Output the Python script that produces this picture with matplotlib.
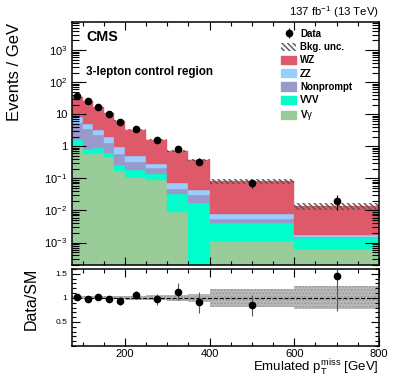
import numpy as np
import matplotlib
matplotlib.use("Agg")
import matplotlib.pyplot as plt
from matplotlib.patches import Patch
from matplotlib.ticker import FixedLocator, MultipleLocator, LogLocator, NullFormatter

plt.rcParams['font.family'] = ['Liberation Sans', 'DejaVu Sans']
plt.rcParams['mathtext.fontset'] = 'custom'
plt.rcParams['mathtext.rm'] = 'Liberation Sans'
plt.rcParams['mathtext.it'] = 'Liberation Sans'

# binning in emulated ptmiss (GeV)
edges = [75, 100, 125, 150, 175, 200, 250, 300, 350, 400, 600, 800]

# events / GeV per process
vgamma = [1.13, 0.58, 0.64, 0.46, 0.165, 0.107, 0.089, 0.0087, 0.0, 0.00115, 0.00065]
vvv = [0.40, 0.27, 0.25, 0.18, 0.105, 0.073, 0.047, 0.0248, 0.017, 0.00295, 0.00075]
nonprompt = [3.87, 2.55, 1.41, 0.66, 0.32, 0.15, 0.074, 0.0125, 0.013, 0.0014, 0.0001]
zz = [3.1, 1.6, 1.0, 0.65, 0.36, 0.16, 0.08, 0.028, 0.013, 0.0022, 0.0002]
wz = [27.1, 20.8, 13.4, 8.75, 5.25, 2.81, 1.33, 0.646, 0.327, 0.0753, 0.0121]

data = [36.0, 25.4, 17.0, 10.5, 5.8, 3.5, 1.57, 0.81, 0.336, 0.070, 0.020]
data_err = [1.2, 1.0, 0.82, 0.65, 0.48, 0.26, 0.18, 0.127, 0.082, 0.0187, 0.010]
bkg_rel_unc = [0.03, 0.03, 0.03, 0.03, 0.03, 0.035, 0.05, 0.06, 0.08, 0.18, 0.24]

procs = [("V$\\gamma$", vgamma, "#99cc99"),
         ("VVV", vvv, "#00ffcc"),
         ("Nonprompt", nonprompt, "#9999cc"),
         ("ZZ", zz, "#99ccff"),
         ("WZ", wz, "#de5a6a")]

edges = np.array(edges, dtype=float)
centers = 0.5 * (edges[1:] + edges[:-1])
widths = np.diff(edges)
data = np.array(data)
data_err = np.array(data_err)
unc = np.array(bkg_rel_unc)

fig = plt.figure(figsize=(3.99, 3.79), dpi=100)
ax = fig.add_axes([72 / 399, 1 - 265 / 379, 307 / 399, 243 / 379])
rax = fig.add_axes([72 / 399, 1 - 346 / 379, 307 / 399, 77 / 379])

bottom = np.zeros(len(centers))
for name, vals, col in procs:
    vals = np.array(vals)
    ax.bar(centers, vals, widths, bottom=bottom, color=col, edgecolor=col,
           linewidth=0.3, zorder=1)
    bottom = bottom + vals
total = bottom

# background uncertainty hatch
ax.bar(centers, 2 * unc * total, widths, bottom=total * (1 - unc), fill=False,
       hatch='\\\\\\\\\\\\', edgecolor='#555555', linewidth=0, zorder=2)

data_h = ax.errorbar(centers, data, yerr=data_err, fmt='o', color='black', ms=4.5,
                     elinewidth=0.8, capsize=0, zorder=3)

ax.set_yscale('log')
ax.set_xlim(75, 800)
ax.set_ylim(2e-4, 7.5e3)
ax.yaxis.set_minor_locator(LogLocator(base=10, subs=np.arange(2, 10) * 1.0, numticks=20))
ax.yaxis.set_minor_formatter(NullFormatter())
ax.set_yticks([1e-3, 1e-2, 1e-1, 1, 10, 100, 1000])
ax.set_yticklabels(['$10^{-3}$', '$10^{-2}$', '$10^{-1}$', '1', '10', '$10^{2}$', '$10^{3}$'])
ax.xaxis.set_major_locator(MultipleLocator(200))
ax.xaxis.set_minor_locator(MultipleLocator(50))
ax.tick_params(labelbottom=False)

# ratio panel
ratio = data / total
ratio_err = data_err / total
rax.bar(centers, 2 * unc, widths, bottom=1 - unc, color='#bbbbbb',
        hatch='.....', edgecolor='#999999', linewidth=0, zorder=1)
rax.axhline(1, color='black', ls='--', lw=0.8, zorder=2)
rax.errorbar(centers, ratio, yerr=ratio_err, fmt='o', color='black', ms=4.5,
             elinewidth=0.8, ecolor='#555555', capsize=0, zorder=3)
rax.set_xlim(75, 800)
rax.set_ylim(0, 1.6)
rax.yaxis.set_major_locator(FixedLocator([0.5, 1, 1.5]))
rax.set_yticklabels(['0.5', '1', '1.5'])
rax.yaxis.set_minor_locator(MultipleLocator(0.1))
rax.xaxis.set_major_locator(MultipleLocator(200))
rax.xaxis.set_minor_locator(MultipleLocator(50))

for a in (ax, rax):
    for s in a.spines.values():
        s.set_linewidth(1.1)
    a.tick_params(which='both', direction='in', top=True, right=True, width=0.8)
    a.tick_params(axis='x', which='major', length=6, labelsize=8, pad=2)
    a.tick_params(axis='x', which='minor', length=3)
ax.tick_params(axis='y', which='major', length=10, labelsize=8)
ax.tick_params(axis='y', which='minor', length=5)
rax.tick_params(axis='y', which='major', length=6, labelsize=6)
rax.tick_params(axis='y', which='minor', length=3)

# axis titles
fig.text(15 / 399, 1 - 72 / 379, 'Events / GeV', fontsize=12, rotation=90,
         ha='center', va='center')
fig.text(31 / 399, 1 - 299 / 379, 'Data/SM', fontsize=11.5, rotation=90,
         ha='center', va='center')
fig.text(379 / 399, 1 - 372 / 379, 'Emulated $p_{\\mathrm{T}}^{\\mathrm{miss}}$ [GeV]',
         fontsize=9.5, ha='right', va='baseline')

fig.text(86 / 399, 1 - 37 / 379, 'CMS', fontsize=10.3, fontweight='bold', va='center')
fig.text(86 / 399, 1 - 72 / 379, '3-lepton control region', fontsize=8.4,
         fontweight='bold', va='center')
fig.text(379 / 399, 1 - 12 / 379, '137 fb$^{-1}$ (13 TeV)', fontsize=8.2,
         ha='right', va='center')

handles = [data_h,
           Patch(facecolor='white', edgecolor='#555555', hatch='\\\\\\\\\\\\', lw=0)]
labels = ['Data', 'Bkg. unc.']
for name, vals, col in procs[::-1]:
    handles.append(Patch(facecolor=col, edgecolor=col))
    labels.append(name)
leg = fig.legend(handles, labels, loc='upper left', bbox_to_anchor=(281 / 399, 1 - 29 / 379),
                 frameon=False, borderpad=0, borderaxespad=0, handlelength=1.55,
                 handleheight=0.95, labelspacing=0.33, handletextpad=0.4,
                 prop={'size': 7, 'weight': 'bold'})

fig.savefig('out.png', dpi=100)
